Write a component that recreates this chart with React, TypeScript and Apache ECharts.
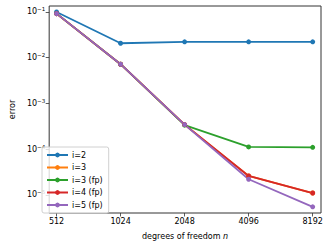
import React, { useEffect, useRef } from "react";
import * as echarts from "echarts";

const dof = [512, 1024, 2048, 4096, 8192];
const seriesNames = ["i=2", "i=3", "i=3 (fp)", "i=4 (fp)", "i=5 (fp)"];
const errI2 = [0.1, 0.0207, 0.0222, 0.0222, 0.0222];
const errI3 = [0.092, 0.0072, 3.45e-4, 2.6e-5, 1.1e-5];
const errI3fp = [0.092, 0.0072, 3.35e-4, 1.12e-4, 1.1e-4];
const errI4fp = [0.092, 0.0072, 3.45e-4, 2.6e-5, 1.1e-5];
const errI5fp = [0.092, 0.0072, 3.45e-4, 2.2e-5, 5.5e-6];
const yTicks = [1e-5, 1e-4, 1e-3, 1e-2, 1e-1];
const colors = ["#1f77b4", "#ff7f0e", "#2ca02c", "#d62728", "#9467bd"];

export default function App() {
  const ref = useRef<HTMLDivElement>(null);
  useEffect(() => {
    if (!ref.current) return;
    const chart = echarts.init(ref.current, null, { renderer: "svg" });
    const allData = [errI2, errI3, errI3fp, errI4fp, errI5fp];
    const font = "DejaVu Sans";
    chart.setOption({
      animation: false,
      color: colors,
      grid: {
        left: 41,
        right: 6,
        top: 6,
        bottom: 30,
        show: true,
        borderColor: "#333",
        borderWidth: 1,
        backgroundColor: "transparent",
      },
      legend: {
        orient: "vertical",
        left: 42,
        top: 147,
        data: seriesNames,
        itemWidth: 21,
        itemHeight: 6,
        itemGap: 4.5,
        padding: [4, 6, 4, 4],
        borderColor: "#d0d0d0",
        borderWidth: 1,
        borderRadius: 2,
        backgroundColor: "rgba(255,255,255,0.8)",
        textStyle: { fontFamily: font, fontSize: 8, color: "#000", padding: [0, 0, 0, -1] },
      },
      xAxis: {
        type: "log",
        logBase: 2,
        min: 512 / Math.pow(2, 0.115),
        max: 8192 * Math.pow(2, 0.13),
        name: "degrees of freedom {i|n}",
        nameLocation: "middle",
        nameGap: 19,
        nameTextStyle: {
          fontFamily: font,
          fontSize: 8,
          color: "#000",
          rich: { i: { fontStyle: "italic", fontFamily: font, fontSize: 8, color: "#000" } },
        },
        axisLine: { show: false },
        splitLine: { show: false },
        minorTick: { show: false },
        axisTick: {
          show: true,
          length: 3.5,
          inside: false,
          lineStyle: { color: "#333", width: 0.8 },
          customValues: dof,
        },
        axisLabel: {
          fontFamily: font,
          fontSize: 8,
          color: "#000",
          margin: 4,
          customValues: dof,
          formatter: (v: number) => String(Math.round(v)),
        },
      },
      yAxis: {
        type: "log",
        logBase: 10,
        min: Math.pow(10, -5.395),
        max: Math.pow(10, -0.87),
        name: "error",
        nameLocation: "middle",
        nameGap: 30,
        nameRotate: 90,
        nameTextStyle: { fontFamily: font, fontSize: 8, color: "#000" },
        axisLine: { show: false },
        splitLine: { show: false },
        minorTick: { show: false },
        axisTick: {
          show: true,
          length: 3.5,
          lineStyle: { color: "#333", width: 0.8 },
          customValues: yTicks,
        },
        axisLabel: {
          fontFamily: font,
          color: "#000",
          margin: 4,
          customValues: yTicks,
          formatter: (v: number) => `{b|10}{s|\u2212${Math.abs(Math.round(Math.log10(v)))}}`,
          rich: {
            b: { fontFamily: font, fontSize: 8, color: "#000" },
            s: { fontFamily: font, fontSize: 5.5, color: "#000", verticalAlign: "bottom", padding: [0, 0, 5, 0] },
          },
        },
      },
      series: seriesNames.map((name, k) => ({
        name,
        type: "line",
        data: dof.map((d, j) => [d, allData[k][j]]),
        symbol: "circle",
        symbolSize: 5,
        lineStyle: { width: 1.8, color: colors[k] },
        itemStyle: { color: colors[k] },
        emphasis: { disabled: true },
      })),
    });
    return () => chart.dispose();
  }, []);
  return (
    <div
      ref={ref}
      style={{ position: "absolute", left: 0, top: 0, width: 327, height: 245 }}
    />
  );
}
